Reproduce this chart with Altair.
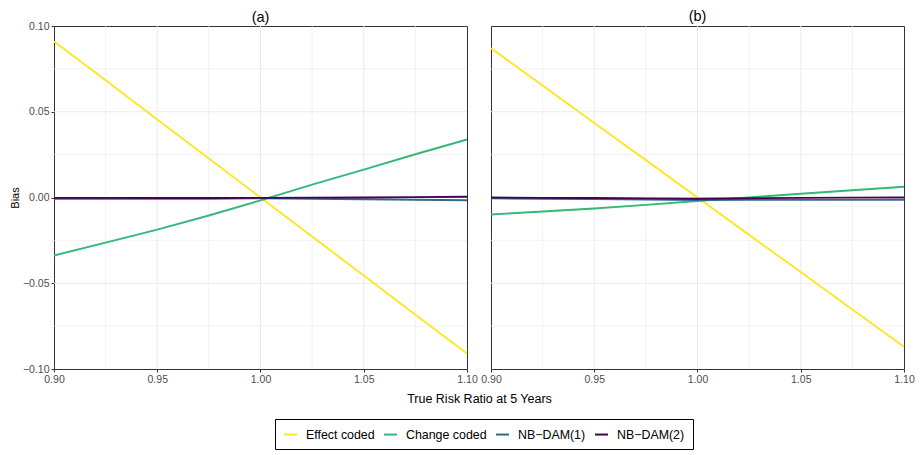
import altair as alt
import pandas as pd

rr = [0.90, 0.925, 0.95, 0.975, 1.00, 1.025, 1.05, 1.075, 1.10]
methods = ["Effect coded", "Change coded", "NB\u2212DAM(1)", "NB\u2212DAM(2)"]
colors = ["#FDE725", "#35B779", "#31688E", "#440154"]

# Panel (a)
a_effect = [0.0910, 0.0683, 0.0455, 0.0228, 0.0000, -0.0228, -0.0455, -0.0683, -0.0910]
a_change = [-0.0338, -0.0263, -0.0187, -0.0105, -0.0017, 0.0075, 0.0163, 0.0252, 0.0338]
a_nb1 = [-0.0008, -0.0008, -0.0008, -0.0007, -0.0005, -0.0007, -0.0010, -0.0013, -0.0016]
a_nb2 = [-0.0002, -0.0002, -0.0003, -0.0003, -0.0002, -0.0001, 0.0000, 0.0002, 0.0004]

# Panel (b)
b_effect = [0.0870, 0.0653, 0.0435, 0.0218, 0.0000, -0.0218, -0.0435, -0.0653, -0.0870]
b_change = [-0.0099, -0.0082, -0.0064, -0.0043, -0.0020, 0.0001, 0.0022, 0.0042, 0.0063]
b_nb1 = [-0.0005, -0.0007, -0.0009, -0.0012, -0.0015, -0.0014, -0.0014, -0.0014, -0.0014]
b_nb2 = [0.0000, -0.0002, -0.0003, -0.0005, -0.0007, -0.0004, -0.0002, -0.0001, 0.0000]

x_ticks = [0.90, 0.95, 1.00, 1.05, 1.10]
y_ticks = [-0.10, -0.05, 0.00, 0.05, 0.10]
x_major_grid = [0.95, 1.00, 1.05]
x_minor_grid = [0.925, 0.975, 1.025, 1.075]
y_major_grid = [-0.05, 0.00, 0.05]
y_minor_grid = [-0.075, -0.025, 0.025, 0.075]

FONT = "Liberation Sans"
W, H = 413, 343
GAP = 24


def long_df(series):
    rows = []
    for m, vals in zip(methods, series):
        for x, v in zip(rr, vals):
            rows.append({"rr": x, "bias": v, "method": m})
    return pd.DataFrame(rows)


xscale = alt.Scale(domain=[0.9, 1.1], nice=False, zero=False)
yscale = alt.Scale(domain=[-0.1, 0.1], nice=False, zero=False)


def panel(series, label, first):
    df = long_df(series)
    xaxis = alt.Axis(
        values=x_ticks, format=".2f", grid=False, labelFlush=False, labelOverlap=False,
        labelBound=False, tickSize=3, tickColor="#333333", domain=False,
        labelColor="#4D4D4D", labelFontSize=10.5, labelFont=FONT, labelPadding=2,
        title="True Risk Ratio at 5 Years" if first else None,
        titleFont=FONT, titleFontSize=12.5, titleFontWeight="normal", titleColor="black",
        titleX=W + GAP / 2, titleY=29, titleBaseline="middle", titleAlign="center",
    )
    if first:
        yaxis = alt.Axis(
            values=y_ticks, format=".2f", grid=False, tickSize=3, tickColor="#333333",
            domain=False, labelColor="#4D4D4D", labelFontSize=10.5, labelFont=FONT,
            labelPadding=2, title="Bias", titleFont=FONT, titleFontSize=11,
            titleFontWeight="normal", titleColor="black", titleX=-39, titleY=H / 2,
            titleAngle=270, titleAlign="center", titleBaseline="middle",
        )
    else:
        yaxis = alt.Axis(values=y_ticks, grid=False, labels=False, ticks=False,
                         domain=False, title=None)

    gx_major = alt.Chart(pd.DataFrame({"v": x_major_grid})).mark_rule(
        color="#EBEBEB", strokeWidth=1).encode(x=alt.X("v:Q", scale=xscale, axis=xaxis))
    gx_minor = alt.Chart(pd.DataFrame({"v": x_minor_grid})).mark_rule(
        color="#EBEBEB", strokeWidth=0.7).encode(x=alt.X("v:Q", scale=xscale))
    gy_major = alt.Chart(pd.DataFrame({"v": y_major_grid})).mark_rule(
        color="#EBEBEB", strokeWidth=1).encode(y=alt.Y("v:Q", scale=yscale, axis=yaxis))
    gy_minor = alt.Chart(pd.DataFrame({"v": y_minor_grid})).mark_rule(
        color="#EBEBEB", strokeWidth=0.7).encode(y=alt.Y("v:Q", scale=yscale))

    lines = alt.Chart(df).mark_line(strokeWidth=1.9).encode(
        x=alt.X("rr:Q", scale=xscale),
        y=alt.Y("bias:Q", scale=yscale),
        color=alt.Color(
            "method:N",
            scale=alt.Scale(domain=methods, range=colors),
            sort=methods,
            legend=alt.Legend(
                title=None, orient="none", direction="horizontal", legendX=221,
                legendY=393, symbolType="stroke", symbolSize=169, symbolStrokeWidth=2,
                labelFont=FONT, labelFontSize=12.4, labelColor="black",
                strokeColor="black", padding=8, columnPadding=5, labelOffset=8,
            ),
        ),
        order=alt.Order("rr:Q"),
    )
    return alt.layer(gx_major, gx_minor, gy_major, gy_minor, lines).properties(
        width=W, height=H,
        title=alt.TitleParams(label, font=FONT, fontSize=14.5, fontWeight="normal",
                              color="black", anchor="middle", offset=-4 if first else 1,
                              frame="group"),
    )


pa = panel([a_effect, a_change, a_nb1, a_nb2], "(a)", True)
pb = panel([b_effect, b_change, b_nb1, b_nb2], "(b)", False)

chart = alt.hconcat(pa, pb, spacing=GAP, bounds="flush").properties(
    padding={"left": 0, "top": 0, "right": 0, "bottom": 0},
    background="white",
).configure_view(stroke="#333333", strokeWidth=1)

chart.save("out.html", embed_options={"renderer": "svg", "actions": False})
